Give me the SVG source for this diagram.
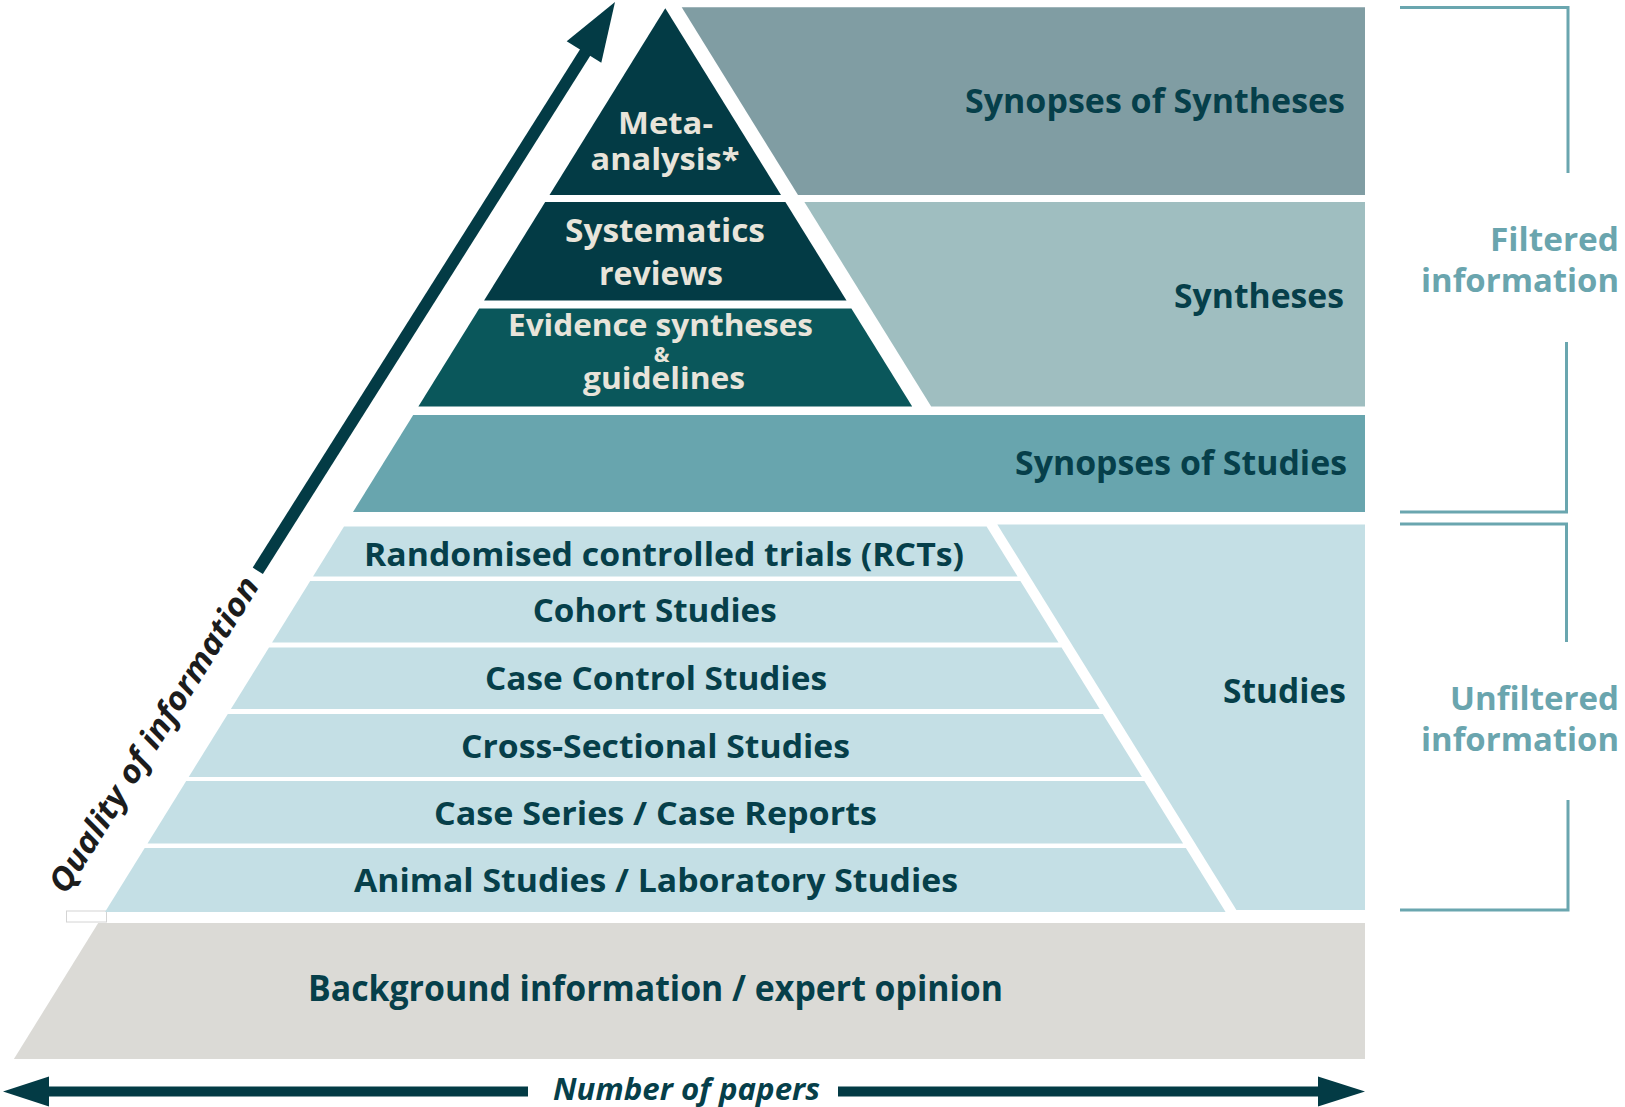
<svg xmlns="http://www.w3.org/2000/svg" width="1625" height="1107" viewBox="0 0 1625 1107">
<style>
  .lbl { font-family: "Open Sans", "Noto Sans", "Liberation Sans", sans-serif; font-weight: 700; }
  .dk { fill: #063f4a; }
  .lt { fill: #e8e4da; }
  .side { fill: #6aa5ae; }
  .ital { font-family: "Open Sans", "Noto Sans", "Liberation Sans", sans-serif; font-weight: 700; font-style: italic; }
  .brk { fill: none; stroke: #6aa6af; stroke-width: 3; }
  .row { fill: #c4dfe5; }
  .arrow { fill: #033b45; }
</style>
<rect width="1625" height="1107" fill="#ffffff"/>

<g id="meta-analysis">
  <polygon points="665.3,8.3 781,195 549.5,195" fill="#033b45"/>
  <text class="lbl lt" x="665.5" y="134" font-size="31" text-anchor="middle" textLength="95" lengthAdjust="spacingAndGlyphs">Meta-</text>
  <text class="lbl lt" x="665" y="170" font-size="31" text-anchor="middle" textLength="149" lengthAdjust="spacingAndGlyphs">analysis*</text>
</g>
<g id="systematic-reviews">
  <polygon points="545.2,202 785.4,202 846.5,300.5 484.1,300.5" fill="#033b45"/>
  <text class="lbl lt" x="665" y="242" font-size="32" text-anchor="middle" textLength="200" lengthAdjust="spacingAndGlyphs">Systematics</text>
  <text class="lbl lt" x="661" y="285" font-size="32" text-anchor="middle" textLength="124" lengthAdjust="spacingAndGlyphs">reviews</text>
</g>
<g id="evidence-syntheses">
  <polygon points="479.2,308.5 851.4,308.5 912.2,406.5 418.4,406.5" fill="#0a575b"/>
  <text class="lbl lt" x="660.5" y="336" font-size="30" text-anchor="middle" textLength="305" lengthAdjust="spacingAndGlyphs">Evidence syntheses</text>
  <text class="lbl lt" x="661.5" y="362" font-size="21" text-anchor="middle">&amp;</text>
  <text class="lbl lt" x="664" y="388.5" font-size="30" text-anchor="middle" textLength="162" lengthAdjust="spacingAndGlyphs">guidelines</text>
</g>
<g id="synopses-of-syntheses">
  <polygon points="681.7,7.3 1365,7.3 1365,195 798,195" fill="#809da3"/>
  <text class="lbl dk" x="1345" y="112.7" font-size="34" text-anchor="end" textLength="380" lengthAdjust="spacingAndGlyphs">Synopses of Syntheses</text>
</g>
<g id="syntheses">
  <polygon points="804.4,202 1365,202 1365,406.5 931.2,406.5" fill="#9fbec0"/>
  <text class="lbl dk" x="1344" y="308" font-size="34" text-anchor="end" textLength="170" lengthAdjust="spacingAndGlyphs">Syntheses</text>
</g>
<g id="synopses-of-studies">
  <polygon points="413.2,415 1365,415 1365,512 353,512" fill="#68a5ae"/>
  <text class="lbl dk" x="1347" y="475" font-size="34" text-anchor="end" textLength="332" lengthAdjust="spacingAndGlyphs">Synopses of Studies</text>
</g>
<g id="studies">
  <polygon points="997.3,524.4 1365,524.4 1365,910 1236.4,910" fill="#c4dfe5"/>
  <text class="lbl dk" x="1346" y="703" font-size="34" text-anchor="end" textLength="123" lengthAdjust="spacingAndGlyphs">Studies</text>
</g>

<rect x="66.5" y="911" width="40" height="11" fill="#ffffff" stroke="#d4d4d4" stroke-width="1"/>

<g id="rcts">
  <polygon class="row" points="344,526.5 986.6,526.5 1017.6,576.5 313,576.5"/>
  <text class="lbl dk" x="664" y="566" font-size="33" text-anchor="middle" textLength="600" lengthAdjust="spacingAndGlyphs">Randomised controlled trials (RCTs)</text>
</g>
<g id="cohort-studies">
  <polygon class="row" points="310.2,581 1020.4,581 1058.5,642.5 272.1,642.5"/>
  <text class="lbl dk" x="654.7" y="621.7" font-size="33" text-anchor="middle" textLength="244" lengthAdjust="spacingAndGlyphs">Cohort Studies</text>
</g>
<g id="case-control-studies">
  <polygon class="row" points="269,647.5 1061.6,647.5 1099.7,709 230.9,709"/>
  <text class="lbl dk" x="656" y="690" font-size="33" text-anchor="middle" textLength="342" lengthAdjust="spacingAndGlyphs">Case Control Studies</text>
</g>
<g id="cross-sectional-studies">
  <polygon class="row" points="227.8,714 1102.8,714 1141.9,777 188.7,777"/>
  <text class="lbl dk" x="655.5" y="757.5" font-size="33" text-anchor="middle" textLength="389" lengthAdjust="spacingAndGlyphs">Cross-Sectional Studies</text>
</g>
<g id="case-series">
  <polygon class="row" points="186.2,781 1144.4,781 1183.1,843.5 147.5,843.5"/>
  <text class="lbl dk" x="655.5" y="825" font-size="33" text-anchor="middle" textLength="443" lengthAdjust="spacingAndGlyphs">Case Series / Case Reports</text>
</g>
<g id="animal-studies">
  <polygon class="row" points="144.7,848 1185.9,848 1225.6,912 105,912"/>
  <text class="lbl dk" x="656" y="892" font-size="33" text-anchor="middle" textLength="604" lengthAdjust="spacingAndGlyphs">Animal Studies / Laboratory Studies</text>
</g>
<g id="background-information">
  <polygon points="98.2,923 1365,923 1365,1059 13.9,1059" fill="#dbdad6"/>
  <text class="lbl dk" x="655.5" y="1000.7" font-size="35" text-anchor="middle" textLength="695" lengthAdjust="spacingAndGlyphs">Background information / expert opinion</text>
</g>

<g id="filtered-information">
  <text class="lbl side" x="1619" y="251" font-size="33" text-anchor="end" textLength="129" lengthAdjust="spacingAndGlyphs">Filtered</text>
  <text class="lbl side" x="1619" y="292" font-size="33" text-anchor="end" textLength="198" lengthAdjust="spacingAndGlyphs">information</text>
</g>
<g id="unfiltered-information">
  <text class="lbl side" x="1619" y="710" font-size="33" text-anchor="end" textLength="169" lengthAdjust="spacingAndGlyphs">Unfiltered</text>
  <text class="lbl side" x="1619" y="751" font-size="33" text-anchor="end" textLength="198" lengthAdjust="spacingAndGlyphs">information</text>
</g>

<g id="connectors">
  <polyline class="brk" points="1400,7.5 1568,7.5 1568,173"/>
  <polyline class="brk" points="1566.5,342 1566.5,512 1400,512"/>
  <polyline class="brk" points="1400,524 1566.5,524 1566.5,642"/>
  <polyline class="brk" points="1568,800 1568,910 1400,910"/>

  <line x1="257.8" y1="570.8" x2="588" y2="48" stroke="#033b45" stroke-width="12"/>
  <polygon class="arrow" points="615,2 601.3,62.8 566.7,41.2"/>
  <text class="ital" fill="#1c1c1c" font-size="32" text-anchor="middle" textLength="366" lengthAdjust="spacingAndGlyphs" transform="translate(163.2,740.4) rotate(-57.9)">Quality of information</text>

  <rect class="arrow" x="46" y="1086.5" width="482" height="10"/>
  <polygon class="arrow" points="3,1091.5 49,1076.5 49,1106.5"/>
  <rect class="arrow" x="838" y="1086.5" width="482" height="10"/>
  <polygon class="arrow" points="1365,1091.5 1318,1076.5 1318,1106.5"/>
  <text class="ital dk" x="686.5" y="1100" font-size="31" text-anchor="middle" textLength="267" lengthAdjust="spacingAndGlyphs">Number of papers</text>
</g>
</svg>
